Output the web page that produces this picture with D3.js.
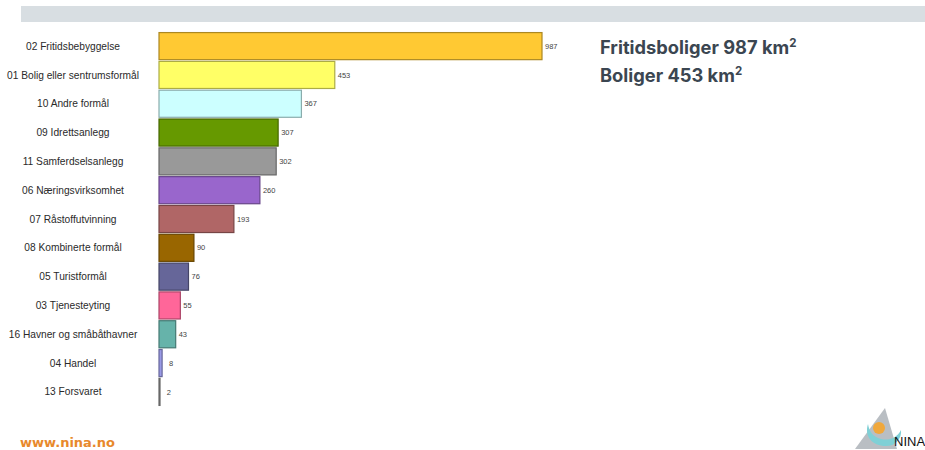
<!DOCTYPE html>
<html>
<head>
<meta charset="utf-8">
<script src="https://cdn.jsdelivr.net/npm/d3@7"></script>
<style>
  html, body { margin: 0; padding: 0; background: #fff; }
  svg { display: block; }
</style>
</head>
<body>
<svg id="chart" width="925" height="450"></svg>
<script>
// Arealformål (km²), sorted largest first
const categories = [
  "02 Fritidsbebyggelse",
  "01 Bolig eller sentrumsformål",
  "10 Andre formål",
  "09 Idrettsanlegg",
  "11 Samferdselsanlegg",
  "06 Næringsvirksomhet",
  "07 Råstoffutvinning",
  "08 Kombinerte formål",
  "05 Turistformål",
  "03 Tjenesteyting",
  "16 Havner og småbåthavner",
  "04 Handel",
  "13 Forsvaret"
];
const values = [987, 453, 367, 307, 302, 260, 193, 90, 76, 55, 43, 8, 2];
const colors = [
  "#ffc933", "#ffff66", "#ccffff", "#669900", "#999999", "#9966cc",
  "#b06666", "#996600", "#666699", "#ff6699", "#66b3aa", "#9999e6", "#999999"
];
const highlights = [
  { label: "Fritidsboliger", value: 987 },
  { label: "Boliger", value: 453 }
];

const svg = d3.select("#chart");

// header band
svg.append("rect")
  .attr("x", 21).attr("y", 6).attr("width", 904).attr("height", 16)
  .attr("fill", "#d8dee2");

const x = d3.scaleLinear().domain([0, 987]).range([159, 542]);
const y = d3.scaleBand().domain(categories).range([32, 406]).paddingInner(0.06).paddingOuter(0.02);

const data = categories.map((c, i) => ({ c, v: values[i], col: colors[i] }));

const rows = svg.append("g").selectAll("g").data(data).join("g");

rows.append("rect")
  .attr("x", x(0))
  .attr("y", d => y(d.c))
  .attr("width", d => Math.max(1, x(d.v) - x(0)))
  .attr("height", y.bandwidth())
  .attr("fill", d => d.col)
  .attr("stroke", d => d3.color(d.col).darker(1.1))
  .attr("stroke-width", 1.2);

rows.append("text")
  .attr("x", d => x(d.v) + (d.v < 20 ? 7 : 3))
  .attr("y", d => y(d.c) + y.bandwidth() / 2)
  .attr("dy", "0.35em")
  .attr("font-family", "Liberation Sans, Arial, sans-serif")
  .attr("font-size", 7.5)
  .attr("fill", "#444")
  .text(d => d.v);

// category labels
svg.append("g").selectAll("text").data(data).join("text")
  .attr("x", 73)
  .attr("y", d => y(d.c) + y.bandwidth() / 2)
  .attr("dy", "0.35em")
  .attr("text-anchor", "middle")
  .attr("font-family", "Liberation Sans, Arial, sans-serif")
  .attr("font-size", 10.2)
  .attr("fill", "#2a2a2a")
  .text(d => d.c);

// headline figures
const hl = svg.append("g").selectAll("text").data(highlights).join("text")
  .attr("x", 600)
  .attr("y", (d, i) => 54 + i * 28)
  .attr("font-family", "Inter, Roboto, sans-serif")
  .attr("font-weight", 700)
  .attr("font-size", 18.3)
  .attr("fill", "#3b4651");
hl.append("tspan").text(d => `${d.label} ${d.value} km`);
hl.append("tspan").attr("font-size", 11.5).attr("dy", -7).text("2");

// footer
svg.append("text")
  .attr("x", 20).attr("y", 447)
  .attr("font-family", "DejaVu Sans, Verdana, sans-serif")
  .attr("font-weight", 700)
  .attr("font-size", 13)
  .attr("fill", "#e8892c")
  .text("www.nina.no");

// logo
const logo = svg.append("g");
logo.append("path")
  .attr("d", "M855,449 L885,408 L897,449 Z")
  .attr("fill", "#b9bec3");
logo.append("path")
  .attr("d", "M868,424 C864,436 872,446 886,446 C896,446 902,438 901,430 C897,438 889,441 881,439 C873,437 869,431 868,424 Z")
  .attr("fill", "#7fd0d6");
logo.append("circle")
  .attr("cx", 879).attr("cy", 428).attr("r", 6)
  .attr("fill", "#f0a83c");
logo.append("text")
  .attr("x", 894).attr("y", 446)
  .attr("font-family", "Liberation Sans Narrow, Liberation Sans, Arial, sans-serif")
  .attr("font-size", 13)
  .attr("fill", "#111")
  .text("NINA");
</script>
</body>
</html>
